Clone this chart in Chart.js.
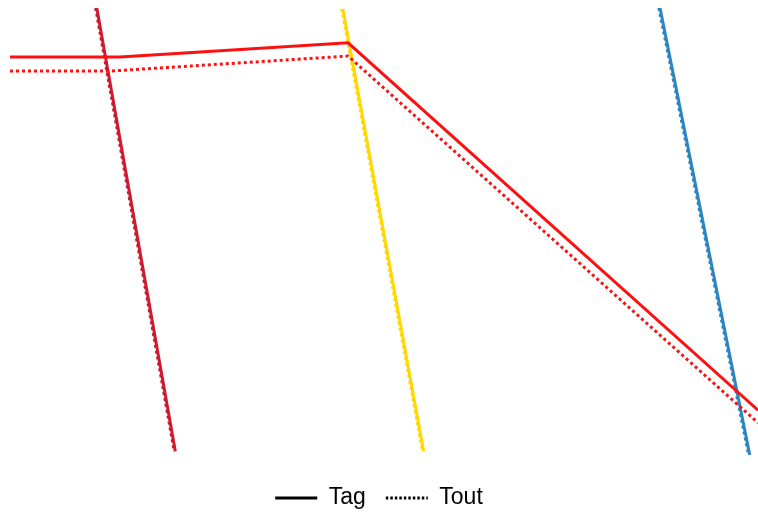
<!DOCTYPE html>
<html lang="fr">
<head>
  <meta charset="UTF-8">
  <title>Tag / Tout</title>
  <script src="https://cdn.jsdelivr.net/npm/chart.js"></script>
  <style>
    html, body {
      margin: 0;
      padding: 0;
      background: #ffffff;
    }
    .wrap {
      width: 758px;
      height: 515px;
    }
  </style>
</head>
<body>
  <div class="wrap">
    <canvas id="chart" width="758" height="515"></canvas>
  </div>

  <script>
    // values, x and y on a 0..100 scale
    const seriesNames = ["Tag", "Tout"];

    const redTagX = [0, 14.7, 45.2, 100];
    const redTagY = [89.6, 89.6, 92.6, 14.6];
    const redToutX = [0, 13.4, 45.2, 100];
    const redToutY = [86.6, 86.6, 89.8, 11.9];

    const crimsonTagX = [11.6, 22.1];
    const crimsonTagY = [100, 5.9];
    const crimsonToutX = [11.45, 21.95];
    const crimsonToutY = [100, 5.9];

    const goldTagX = [44.5, 55.3];
    const goldTagY = [99.8, 5.9];
    const goldToutX = [44.35, 55.15];
    const goldToutY = [99.8, 5.9];

    const blueTagX = [86.9, 98.9];
    const blueTagY = [100, 5.1];
    const blueToutX = [86.75, 98.75];
    const blueToutY = [100, 5.1];

    function pts(xs, ys) {
      return xs.map((x, i) => ({ x: x, y: ys[i] }));
    }

    function line(xs, ys, color, dotted) {
      return {
        label: dotted ? seriesNames[1] : seriesNames[0],
        data: pts(xs, ys),
        borderColor: color,
        backgroundColor: color,
        borderWidth: 3,
        borderDash: dotted ? [3, 3] : [],
        pointRadius: 0,
        showLine: true,
        fill: false,
        tension: 0
      };
    }

    const ctx = document.getElementById("chart").getContext("2d");
    new Chart(ctx, {
      type: "scatter",
      data: {
        datasets: [
          line(redTagX, redTagY, "#ff1010", false),
          line(redToutX, redToutY, "#ff1010", true),
          line(crimsonTagX, crimsonTagY, "#cf1a2e", false),
          line(crimsonToutX, crimsonToutY, "#cf1a2e", true),
          line(goldTagX, goldTagY, "#ffd800", false),
          line(goldToutX, goldToutY, "#ffd800", true),
          line(blueTagX, blueTagY, "#2b85c2", false),
          line(blueToutX, blueToutY, "#2b85c2", true)
        ]
      },
      options: {
        responsive: false,
        animation: false,
        layout: {
          // legend sits low, close to the bottom edge
          padding: { left: 0, top: 8, right: 0, bottom: -4.5 }
        },
        scales: {
          x: { type: "linear", display: false, min: -1.34, max: 100 },
          y: { type: "linear", display: false, min: 2.65, max: 100 }
        },
        plugins: {
          tooltip: { enabled: false },
          legend: {
            position: "bottom",
            labels: {
              color: "#000000",
              font: { family: "'Liberation Sans', Arial, sans-serif", size: 23 },
              padding: 20,
              usePointStyle: true,
              pointStyleWidth: 42,
              boxHeight: 20,
              generateLabels: function () {
                return seriesNames.map((name, i) => ({
                  text: name,
                  fillStyle: "#000000",
                  strokeStyle: "#000000",
                  lineWidth: 3,
                  lineDash: i === 0 ? [] : [2.5, 2],
                  pointStyle: "line",
                  hidden: false,
                  datasetIndex: i
                }));
              }
            }
          }
        }
      }
    });
  </script>
</body>
</html>
